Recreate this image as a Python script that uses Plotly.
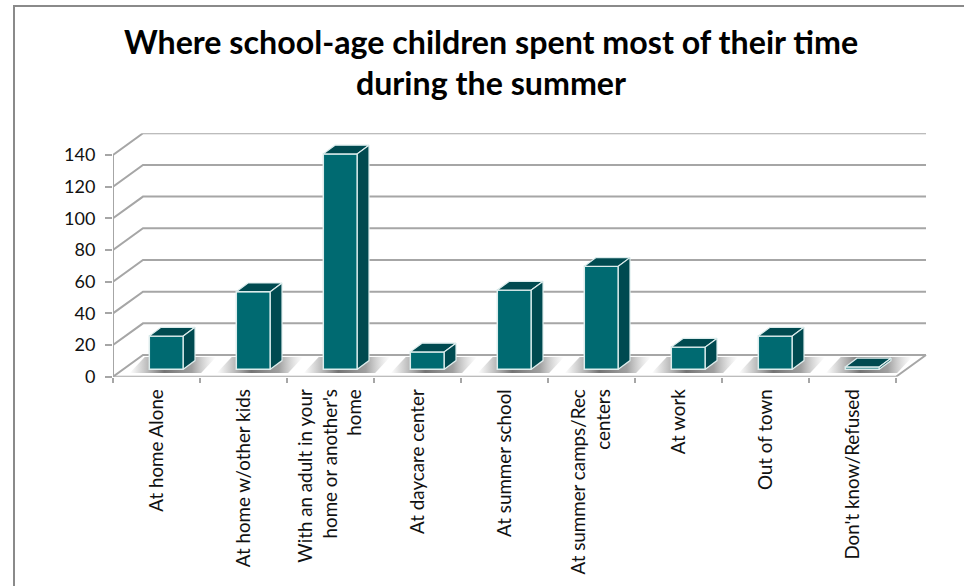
import plotly.graph_objects as go

categories = ["At home Alone", "At home w/other kids",
              "With an adult in your<br>home or another's<br>home",
              "At daycare center", "At summer school",
              "At summer camps/Rec<br>centers", "At work", "Out of town",
              "Don't know/Refused"]
values = [21, 49, 136, 11, 50, 65, 14, 21, 1.5]
y_ticks = [0, 20, 40, 60, 80, 100, 120, 140]

W, H = 964, 586
MB = 50                                      # bottom margin, px
PH = H - MB
X0, X1, Y0, Y1 = 113, 927, 376.7, 133.3      # plot box in pixels
PX_X = 87.0                                  # px per category
PX_Y = 1.584                                 # px per unit
x_range = [0, (X1 - X0) / PX_X]
y_range = [0, (Y0 - Y1) / PX_Y]
n = len(categories)
wall_dx, wall_dy = 30 / PX_X, 21.7 / PX_Y
bar_shift = 9.8 / PX_X
bar_base = 7.4 / PX_Y
bar_w = 34 / PX_X
side_dx, side_dy = 11.7 / PX_X, 8.7 / PX_Y

GRID = "#a6a6a6"
FRONT = "#006a71"
DARK = "#004a50"
EDGE = "#dcecec"

fig = go.Figure()

# wall and floor lines
gx, gy = [], []
for v in y_ticks:
    gx += [0, wall_dx, n + wall_dx, None]
    gy += [v, v + wall_dy, v + wall_dy, None]
gx += [0, n, n + wall_dx, None, 0, 0]
gy += [0, 0, wall_dy, None, 0, y_ticks[-1]]
fig.add_trace(go.Scatter(x=gx, y=gy, mode="lines", hoverinfo="skip",
                         line=dict(color=GRID, width=2), showlegend=False))

# floor shadows
for i in range(n):
    c = i + 0.5 + bar_shift
    left = c - 0.42
    right = c + 0.40
    sd_x, sd_y = 15 / PX_X, 16 / PX_Y
    low = 2.4
    fig.add_trace(go.Scatter(
        x=[left, right, right + sd_x, left + sd_x, left],
        y=[low, low, low + sd_y, low + sd_y, low],
        mode="lines", line=dict(width=0), fill="toself", hoverinfo="skip",
        fillgradient=dict(type="horizontal", colorscale=[
            [0, "rgba(120,120,120,0)"], [0.40, "rgba(100,100,100,0.9)"],
            [0.72, "rgba(120,120,120,0.7)"], [1, "rgba(170,170,170,0)"]]),
        showlegend=False))

# bar fronts
xc = [i + 0.5 + bar_shift for i in range(n)]
fig.add_trace(go.Bar(x=xc, y=values, base=[bar_base] * n, width=bar_w,
                     marker=dict(color=FRONT, line=dict(color=EDGE, width=1.5)),
                     xaxis="x2", yaxis="y2", showlegend=False, hoverinfo="y"))

# bar top and side faces
for c, v in zip(xc, values):
    l, r = c - bar_w / 2, c + bar_w / 2
    top = bar_base + v
    fig.add_trace(go.Scatter(
        x=[l, r, r + side_dx, l + side_dx, l],
        y=[top, top, top + side_dy, top + side_dy, top],
        mode="lines", fill="toself", fillcolor=DARK, hoverinfo="skip",
        line=dict(color=EDGE, width=1.2), xaxis="x2", yaxis="y2", showlegend=False))
    fig.add_trace(go.Scatter(
        x=[r, r + side_dx, r + side_dx, r, r],
        y=[bar_base, bar_base + side_dy, top + side_dy, top, bar_base],
        mode="lines", fill="toself", fillcolor=DARK, hoverinfo="skip",
        line=dict(color=EDGE, width=1.2), xaxis="x2", yaxis="y2", showlegend=False))

dom_x = [X0 / W, X1 / W]
dom_y = [(PH - Y0) / PH, (PH - Y1) / PH]
font = dict(family="Lato, Open Sans, sans-serif", size=18.8, color="#111111")

fig.update_layout(
    width=W, height=H, autosize=False,
    margin=dict(l=0, r=0, t=0, b=MB),
    paper_bgcolor="white", plot_bgcolor="rgba(0,0,0,0)",
    showlegend=False, font=font,
    title=dict(text="<b>Where school-age children spent most of their time<br>during the summer</b>",
               x=491 / W, xanchor="center", y=1 - 53.5 / H, yanchor="top",
               font=dict(family="Lato, Open Sans, sans-serif", size=32.2, color="#000000")),
    xaxis=dict(domain=dom_x, range=x_range, showgrid=False, zeroline=False, showline=False,
               tickmode="array", tickvals=[i + 0.5 for i in range(n)], ticktext=categories,
               tickangle=-90, ticks="outside", ticklen=4, tickcolor="rgba(0,0,0,0)",
               tickfont=font,
               minor=dict(tickmode="linear", tick0=0, dtick=1, ticks="outside", ticklen=5,
                          tickcolor=GRID, tickwidth=2, showgrid=False)),
    yaxis=dict(domain=dom_y, range=y_range, showgrid=False, zeroline=False, showline=False,
               tickmode="array", tickvals=y_ticks, ticks="outside", ticklen=7,
               tickcolor=GRID, tickwidth=2, ticklabelstandoff=6,
               tickfont=dict(family="Lato, Open Sans, sans-serif", size=18, color="#111111")),
    xaxis2=dict(overlaying="x", matches="x", visible=False),
    yaxis2=dict(overlaying="y", matches="y", visible=False),
    shapes=[dict(type="path", xref="paper", yref="paper",
                 path=f"M {14/W} {-MB/PH} L {14/W} {1-6/PH} L 1 {1-6/PH}",
                 line=dict(color="#8a8a8a", width=2), layer="below")],
)
fig.write_html("out.html", config={"displayModeBar": False},
               post_script="document.body.style.margin='0';document.documentElement.style.overflow='hidden';")
